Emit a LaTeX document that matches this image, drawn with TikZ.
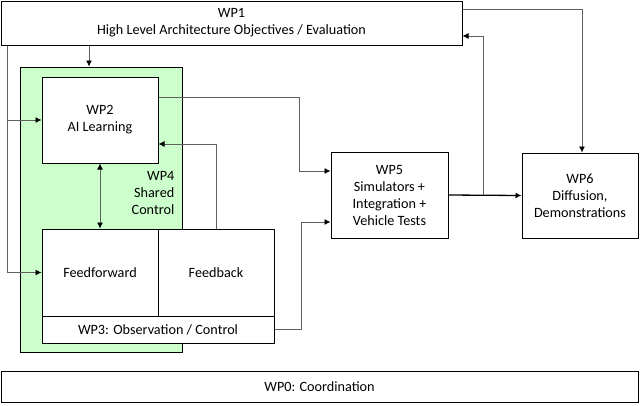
\documentclass[tikz,border=0pt]{standalone}
\usepackage{fontspec}
\setmainfont{Carlito}
\usetikzlibrary{arrows.meta}
\definecolor{wpgreen}{HTML}{CCFFCC}
\definecolor{linegray}{HTML}{606060}

\begin{document}
\begin{tikzpicture}[x=1pt, y=-1pt,
    font=\fontsize{14.2}{17}\selectfont,
    wpbox/.style={draw, line width=1pt, fill=white, align=center, inner sep=0pt},
    link/.style={draw=linegray, line width=0.8pt, -{Latex[length=6pt,width=6pt,color=black]}},
    mainlink/.style={draw=black, line width=1.3pt, -{Latex[length=6pt,width=6pt,color=black]}},
  ]

    \useasboundingbox (0,0) rectangle (640,405); % page size

    \node[wpbox, minimum width=461pt, minimum height=44pt] (wp1) at (231.5,23)
    	{WP1\\High Level Architecture Objectives / Evaluation};

    \node[wpbox, fill=wpgreen, minimum width=162pt, minimum height=285pt] (wp4) at (101,209.5) {}; % shared control frame
    \node[align=right, anchor=east, inner sep=0pt] (wp4lbl) at ([xshift=-8pt, yshift=16.5pt]wp4.east)
    	{WP4\\Shared\\Control};

    \node[wpbox, minimum width=116pt, minimum height=86pt] (wp2) at (100,120) {WP2\\AI Learning};
    \node[wpbox, minimum width=116pt, minimum height=87pt] (ff) at (100,272.5) {Feedforward};
    \node[wpbox, minimum width=116pt, minimum height=87pt] (fb) at (216,272.5) {Feedback};
    \node[wpbox, minimum width=232pt, minimum height=27pt] (wp3) at (158,329.5) {WP3: Observation / Control};

    \node[wpbox, minimum width=117pt, minimum height=86pt] (wp5) at (389.5,195)
    	{WP5\\Simulators +\\Integration +\\Vehicle Tests};
    \node[wpbox, minimum width=116pt, minimum height=85pt] (wp6) at (580,195.5)
    	{WP6\\Diffusion,\\Demonstrations};

    \node[wpbox, minimum width=637pt, minimum height=31pt] (wp0) at (319.5,386.5) {WP0: Coordination};

    % WP1 to the left boxes
    \coordinate (drop) at ([xshift=7pt]wp1.south west);
    \draw[link] (drop) |- (wp2.west);
    \draw[link] (drop) |- (ff.west);
    \draw[link] ([xshift=-12pt]wp4.north |- wp1.south) -- ([xshift=-12pt]wp4.north);

    \draw[link, {Latex[length=6pt,width=6pt,color=black]}-{Latex[length=6pt,width=6pt,color=black]}] (wp2.south) -- (ff.north);
    \draw[link] (fb.north) |- ([yshift=-24pt]wp2.east); % feedback loop

    % into WP5
    \draw[link] ([yshift=23pt]wp2.east) -- ++(141pt,0) |- ([yshift=24pt]wp5.west);
    \draw[link] (wp3.east) -- ++(27pt,0) |- ([yshift=-27pt]wp5.west);

    % out of WP5
    \coordinate (split) at ([xshift=35pt]wp5.east);
    \draw[mainlink] (wp5.east) -- (wp6.west);
    \draw[link] (split) |- ([yshift=-13pt]wp1.east);
    \draw[link] ([yshift=14pt]wp1.east) -| ([xshift=2pt]wp6.north);

\end{tikzpicture}
\end{document}
